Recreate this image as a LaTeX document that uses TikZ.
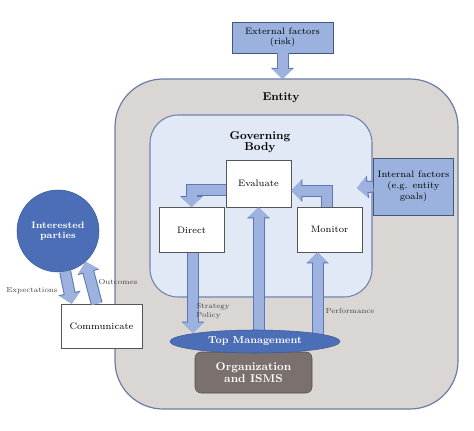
\documentclass[tikz,border=0pt]{standalone}
\usepackage{tikz}
\usetikzlibrary{positioning, arrows.meta, shapes.geometric, calc}
\definecolor{entitygray}{HTML}{DAD6D3}
\definecolor{entityline}{HTML}{6B7CA6}
\definecolor{govblue}{HTML}{E2E9F6}
\definecolor{govline}{HTML}{6E82B0}
\definecolor{factorblue}{HTML}{9BB2DE}
\definecolor{factorline}{HTML}{44587F}
\definecolor{arrowblue}{HTML}{9DB2DE}
\definecolor{arrowline}{HTML}{5B77B5}
\definecolor{darkblue}{HTML}{4B6EB6}
\definecolor{darkbline}{HTML}{3A5A9A}
\definecolor{orggray}{HTML}{7A716F}
\definecolor{orgline}{HTML}{544C4A}
\definecolor{boxgray}{HTML}{555555}
\pgfdeclarelayer{front}
\pgfsetlayers{main,front}
\tikzstyle{wbox} = [rectangle, draw=boxgray, fill=white, font=\fontsize{7}{8}\selectfont,
minimum width=48.75pt, minimum height=34pt]
\tikzstyle{fbox} = [rectangle, draw=factorline, fill=factorblue, align=center,
font=\fontsize{7}{8}\selectfont]
\tikzstyle{title} = [font=\bfseries\fontsize{8.5}{10}\selectfont, align=center]
\tikzstyle{small} = [font=\fontsize{5.5}{6.5}\selectfont, align=left, text=black!75]
\tikzstyle{bigarrow} = [draw=arrowblue, line width=7.5pt, -{Triangle[width=15pt,length=7.5pt]},
preaction={draw=arrowline, line width=9pt, -{Triangle[width=16.5pt,length=8.25pt]}}]

\begin{document}
\begin{tikzpicture}[x=0.75pt, y=-0.75pt]
        \useasboundingbox (0,0) rectangle (474,431);
        % containers
        \draw [fill=entitygray, draw=entityline, line width=0.9pt, rounded corners=36pt] (115,79) rectangle (458,409);
        \node (Entity) [title] at (281,98) {Entity};
        \draw [fill=govblue, draw=govline, line width=0.8pt, rounded corners=21pt] (150,115) rectangle (372,297);
        \node (Governing) [title] at (260,142) {Governing\\[-2pt]Body};

        \node (Evaluate) [wbox, minimum height=35.25pt] at (258.5,183.5) {Evaluate};
        \node (Direct) [wbox] at (191.5,230) {Direct};
        \node (Monitor) [wbox] at (329.5,229.5) {Monitor};
        \node (Communicate) [wbox, minimum width=60.75pt, minimum height=33pt] at (101.5,326) {Communicate};
        \node (External) [fbox, minimum width=75.75pt, minimum height=23.25pt] at (282.5,37.5) {External factors\\(risk)};
        \node (Internal) [fbox, minimum width=59.25pt, minimum height=42.75pt] at (413.5,186.5) {Internal factors\\(e.g. entity\\goals)};
        \node (Interested) [circle, fill=darkblue, draw=darkbline, minimum size=61.5pt, text=white, align=center,
            font=\bfseries\fontsize{7}{8}\selectfont] at (58,231) {Interested\\parties};
        \coordinate (GovIn) at (357,188);

        \begin{pgfonlayer}{front}
        \node (Org) [rectangle, rounded corners=4.5pt, fill=orggray, draw=orgline, text=white, align=center,
            minimum width=87.75pt, minimum height=30.75pt, font=\bfseries\fontsize{8.5}{9.5}\selectfont] at (253.5,372.5) {Organization\\and ISMS};
        \node (TopMgmt) [ellipse, fill=darkblue, draw=darkbline, text=white, inner sep=0pt,
            minimum width=127.5pt, minimum height=17.25pt, font=\bfseries\fontsize{7.5}{9}\selectfont] at (255,341.5) {Top Management};
        \end{pgfonlayer}

        % block arrows
        \draw [bigarrow] (External.south) -- (External.south |- 0,79);
        \draw [bigarrow] (Internal.west) -- (GovIn);
        \draw [bigarrow] ($(Evaluate.west)+(0,6)$) -| (Direct.north);
        \draw [bigarrow] ($(Monitor.north)+(-3,0)$) |- ($(Evaluate.east)+(0,7)$);
        \draw [bigarrow] (Evaluate.south |- TopMgmt.center) -- (Evaluate.south);
        \draw [bigarrow] ($(Monitor.south |- TopMgmt.center)+(-12,0)$) -- ($(Monitor.south)+(-12,0)$);
        \draw [bigarrow] ($(Direct.south)+(1.5,0)$) -- ($(Direct.south |- TopMgmt.north)+(1.5,3)$);
        \draw [bigarrow] (Interested.-80) -- ($(Communicate.north west)+(11,0)$);
        \draw [bigarrow] ($(Communicate.north west)+(36,0)$) -- (Interested.-48);

        % labels
        \node (Expect) [small] at (32,291) {Expectations};
        \node (Outcome) [small] at (118,282) {Outcomes};
        \node (Strategy) [small] at (213,311) {Strategy\\Policy};
        \node (Perform) [small] at (350,311) {Performance};
\end{tikzpicture}
\end{document}
